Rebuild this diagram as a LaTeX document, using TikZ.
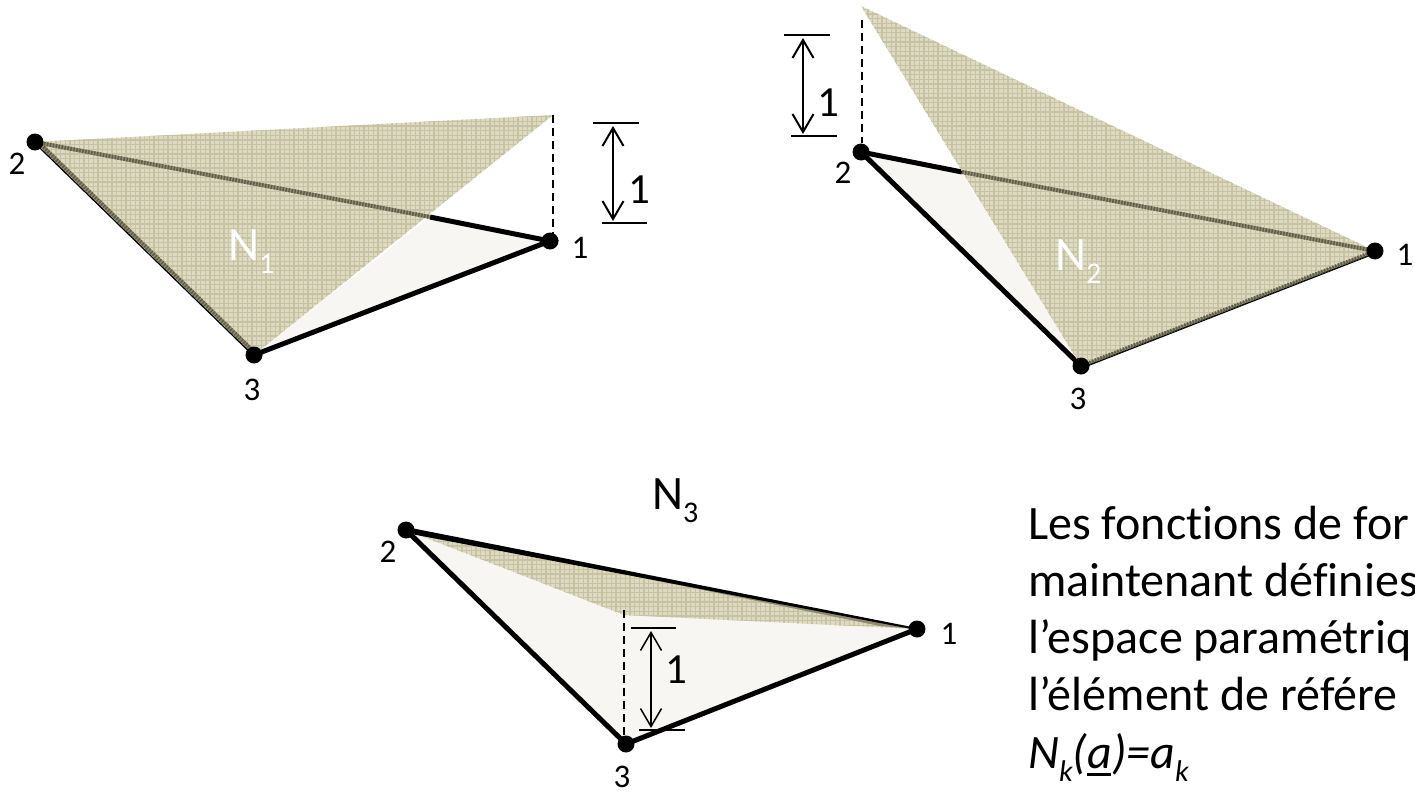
\documentclass[tikz,border=0pt]{standalone}
\usepackage{fontspec}
\setmainfont[Ligatures=NoCommon]{Carlito}
\usetikzlibrary{arrows.meta}
\definecolor{khaki}{HTML}{DDDAC4}
\definecolor{khakiline}{HTML}{C7C3A2}
\definecolor{khakiedge}{HTML}{8F8B72}
\definecolor{khakidark}{HTML}{5F5C48}
\definecolor{paleface}{HTML}{F7F6F2}
\newcommand{\plaid}[1]{%
 \begin{scope}
  \clip #1;
  \fill[khaki] (0,0) rectangle (1415,795);
  \foreach \k in {0,...,101}{
   \draw[plaid line] ({\k*14},0)--({\k*14},795);
   \draw[plaid fine] ({\k*14+4.7},0)--({\k*14+4.7},795);
   \draw[plaid fine] ({\k*14+9.3},0)--({\k*14+9.3},795);
  }
  \foreach \k in {0,...,57}{
   \draw[plaid line] (0,{\k*14})--(1415,{\k*14});
   \draw[plaid fine] (0,{\k*14+4.7})--(1415,{\k*14+4.7});
   \draw[plaid fine] (0,{\k*14+9.3})--(1415,{\k*14+9.3});
  }
 \end{scope}}
\newcommand{\subscr}[1]{\raisebox{-13pt}{\fontsize{30}{30}\selectfont #1}}
\tikzset{
 x=1pt,y=-1pt,
 plaid line/.style={line width=1.3pt,khakiline},
 plaid fine/.style={line width=.6pt,khakiline},
 thick edge/.style={line width=5pt,black},
 thin edge/.style={line width=3pt,black},
 hatch edge/.style={line width=4pt,khakiedge,postaction={draw=khakidark,line width=4pt,dash pattern=on 1.5pt off 1.5pt}},
 vertex/.style={circle,fill=black,inner sep=0pt,minimum size=17pt},
 numlabel/.style={font=\fontsize{33}{33}\selectfont,inner sep=0pt,text=black},
 dimlabel/.style={font=\fontsize{43}{43}\selectfont,inner sep=0pt},
 shapelabel/.style={font=\fontsize{48}{48}\selectfont,inner sep=0pt,anchor=base west},
 tick/.style={line width=2pt},
 dimarrow/.style={line width=2pt,{Straight Barb[length=18pt,width=21pt]}-{Straight Barb[length=18pt,width=21pt]}},
 dashline/.style={line width=1.6pt,dash pattern=on 8pt off 5pt},
 bodytext/.style={font=\fontsize{48}{48}\selectfont,inner sep=0pt,anchor=base west},
}
\begin{document}
\begin{tikzpicture}
\useasboundingbox (0,0) rectangle (1415,795);
% ---- N1
\coordinate (a1) at (550,241);\coordinate (a2) at (35,142);\coordinate (a3) at (254,355);
\coordinate (aT) at (553,115);\coordinate (aI) at (430,217);
\fill[paleface] (a3)--(a1)--(aI)--cycle;
\draw[thin edge] (a2)--(a3);
\draw[thick edge] (aI)--(a1)--(a3);
\plaid{(a2)--(aT)--(a3)--cycle}
\draw[hatch edge] (a2)--(aI);
\draw[hatch edge] ([shift={(2,-1)}]a2)--([shift={(2,-1)}]a3);
\draw[dashline] (aT)--(553,235);
\node[vertex] (v1a) at (a1) {};\node[vertex] (v2a) at (a2) {};\node[vertex] (v3a) at (a3) {};
\node[numlabel] (l1a) at (580,248) {1};
\node[numlabel] (l2a) at (17,164) {2};
\node[numlabel] (l3a) at (252,390) {3};
\node[shapelabel,text=white] (na) at (228,260) {N\subscr{1}};
\coordinate (at1) at (593,123);\coordinate (at2) at (639,123);
\coordinate (ab1) at (602,223);\coordinate (ab2) at (647,223);
\coordinate (aa1) at (613,126);\coordinate (aa2) at (613,221);
\draw[tick] (at1)--(at2);\draw[tick] (ab1)--(ab2);
\draw[dimarrow] (aa1)--(aa2);
\node[dimlabel] (da) at (639,190) {1};
% ---- N2
\coordinate (b1) at (1375,251);\coordinate (b2) at (861,152);\coordinate (b3) at (1081,366);
\coordinate (bT) at (861,6);\coordinate (bI) at (962,172);
\fill[paleface] (b2)--(b3)--(bI)--cycle;
\draw[thick edge] (bI)--(b2)--(b3);
\draw[thin edge] ([shift={(1,1)}]b3)--([shift={(1,1)}]b1);
\plaid{(bT)--(b1)--(b3)--cycle}
\draw[hatch edge] (bI)--(b1);
\draw[hatch edge,line width=2.5pt] (b3)--(b1);
\draw[dashline] (862,20)--(862,143);
\node[vertex] (v1b) at (b1) {};\node[vertex] (v2b) at (b2) {};\node[vertex] (v3b) at (b3) {};
\node[numlabel] (l1b) at (1405,255) {1};
\node[numlabel] (l2b) at (843,173) {2};
\node[numlabel] (l3b) at (1078,399) {3};
\node[shapelabel,text=white] (nb) at (1055,270) {N\subscr{2}};
\coordinate (bt1) at (784,35);\coordinate (bt2) at (830,35);
\coordinate (bb1) at (791,136);\coordinate (bb2) at (837,136);
\coordinate (ba1) at (803,38);\coordinate (ba2) at (803,134);
\draw[tick] (bt1)--(bt2);\draw[tick] (bb1)--(bb2);
\draw[dimarrow] (ba1)--(ba2);
\node[dimlabel] (db) at (828,103) {1};
% ---- N3
\coordinate (c1) at (917,629);\coordinate (c2) at (406,530);\coordinate (c3) at (626,744);
\coordinate (cT) at (624,615);
\fill[paleface] (c1)--(c2)--(c3)--cycle;
\plaid{(c2)--(c1)--(cT)--cycle}
\draw[thick edge] (c1)--(c3)--(c2);
\fill[khakiedge] (560,561)--(c1)--(880,626)--cycle;
\fill[black] ([shift={(0,-3)}]c2)--([shift={(0,-1)}]c1)--([shift={(0,1)}]c1)--([shift={(0,3)}]c2)--cycle;
\draw[dashline,line width=1.3pt] (624,610)--(624,738);
\node[vertex] (v1c) at (c1) {};\node[vertex] (v2c) at (c2) {};\node[vertex] (v3c) at (c3) {};
\node[numlabel] (l1c) at (949,634) {1};
\node[numlabel] (l2c) at (388,552) {2};
\node[numlabel] (l3c) at (622,777) {3};
\node[shapelabel] (nc) at (652,509) {N\subscr{3}};
\coordinate (ct1) at (631,628);\coordinate (ct2) at (676,628);
\coordinate (cb1) at (639,730);\coordinate (cb2) at (685,730);
\coordinate (ca1) at (651,631);\coordinate (ca2) at (651,728);
\draw[tick] (ct1)--(ct2);\draw[tick] (cb1)--(cb2);
\draw[dimarrow,line width=1.5pt] (ca1)--(ca2);
\node[dimlabel] (dc) at (676,670) {1};
% ---- text
\node[bodytext] (t1) at (1028,539) {Les fonctions de for};
\node[bodytext] (t2) at (1028,596) {maintenant définies};
\node[bodytext] (t3) at (1028,653) {l’espace paramétriq};
\node[bodytext] (t4) at (1028,710) {l’élément de référe};
\node[bodytext] (t5) at (1028,768) {\itshape N\subscr{k}(\rlap{\rule[-8pt]{24pt}{3pt}}a)=a\subscr{k}};
\end{tikzpicture}
\end{document}
